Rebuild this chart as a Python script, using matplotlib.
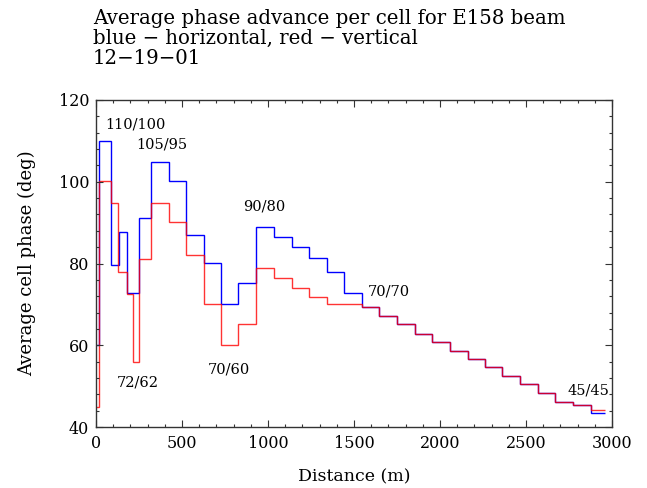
import matplotlib
matplotlib.use("Agg")
import matplotlib.pyplot as plt
from matplotlib.ticker import MultipleLocator

# ---- data ----
blue_edges = [0, 15, 89, 136, 179, 249, 319, 422, 525, 626, 726, 827, 932, 1035,
              1137, 1240, 1341, 1444, 1547, 1648, 1749, 1852, 1956, 2057, 2160,
              2261, 2362, 2465, 2569, 2670, 2773, 2876, 2962]
blue_phase = [60, 110, 79.6, 87.8, 72.9, 91.2, 104.8, 100.2, 87.0, 80.1, 70.2,
              75.2, 89.0, 86.5, 84.1, 81.4, 78.0, 72.7, 69.3, 67.2, 65.1, 62.8,
              60.8, 58.7, 56.7, 54.6, 52.4, 50.4, 48.3, 46.2, 45.3, 43.5]

red_edges = [0, 15, 89, 130, 179, 214, 249, 319, 422, 525, 626, 726, 827, 932,
             1035, 1137, 1240, 1341, 1444, 1547, 1648, 1749, 1852, 1956, 2057,
             2160, 2261, 2362, 2465, 2569, 2670, 2773, 2876, 2962]
red_phase = [45, 100.2, 94.9, 77.8, 72.6, 56.0, 81.0, 94.7, 90.2, 82.0, 70.2,
             60.1, 65.2, 79.0, 76.5, 74.1, 71.8, 70.2, 70.2, 69.3, 67.2, 65.1,
             62.8, 60.8, 58.7, 56.7, 54.6, 52.4, 50.4, 48.3, 46.2, 45.3, 44.2]

tune_labels = ["110/100", "105/95", "90/80", "72/62", "70/60", "70/70", "45/45"]
tune_x = [53, 232, 854, 121, 650, 1580, 2740]
tune_y = [114.1, 109.2, 93.9, 51.0, 54.1, 73.1, 48.9]

title_lines = ["Average phase advance per cell for E158 beam",
               "blue \u2212 horizontal, red \u2212 vertical",
               "12\u221219\u221201"]

plt.rcParams['font.family'] = ['DejaVu Serif']

fig = plt.figure(figsize=(6.47, 4.88), dpi=100)
ax = fig.add_axes([96/647, 1-427/488, (612-96)/647, (427-100)/488])

ax.stairs(blue_phase, blue_edges, color=(0, 0, 1), lw=1.0, baseline=None)
ax.stairs(red_phase, red_edges, color=(1, 0, 0), lw=1.0, alpha=0.8,
          baseline=None)

ax.set_xlim(0, 3000)
ax.set_ylim(40, 120)
ax.xaxis.set_major_locator(MultipleLocator(500))
ax.xaxis.set_minor_locator(MultipleLocator(100))
ax.yaxis.set_major_locator(MultipleLocator(20))
ax.yaxis.set_minor_locator(MultipleLocator(4))
ax.tick_params(which='both', direction='in', top=True, right=True,
               labelsize=11.5, width=0.8, color='#333333')
ax.tick_params(which='major', length=5)
ax.tick_params(which='minor', length=2.5)
ax.tick_params(axis='x', pad=6)
ax.tick_params(axis='y', pad=5)
for s in ax.spines.values():
    s.set_color('#333333')
    s.set_linewidth(1.0)

ax.set_xlabel("Distance (m)", fontsize=12.5, va='center')
ax.set_ylabel("Average cell phase (deg)", fontsize=13, va='center')
ax.xaxis.set_label_coords(0.5, (427 - 477) / 327)
ax.yaxis.set_label_coords((27 - 96) / 516, 0.5)

for t, x, y in zip(tune_labels, tune_x, tune_y):
    ax.text(x, y, t, fontsize=10.5, ha='left', va='center')

for i, line in enumerate(title_lines):
    fig.text(93/647, 1 - (18 + 20*i)/488, line, fontsize=14.2,
             ha='left', va='center')

fig.savefig("out.png", dpi=100)
